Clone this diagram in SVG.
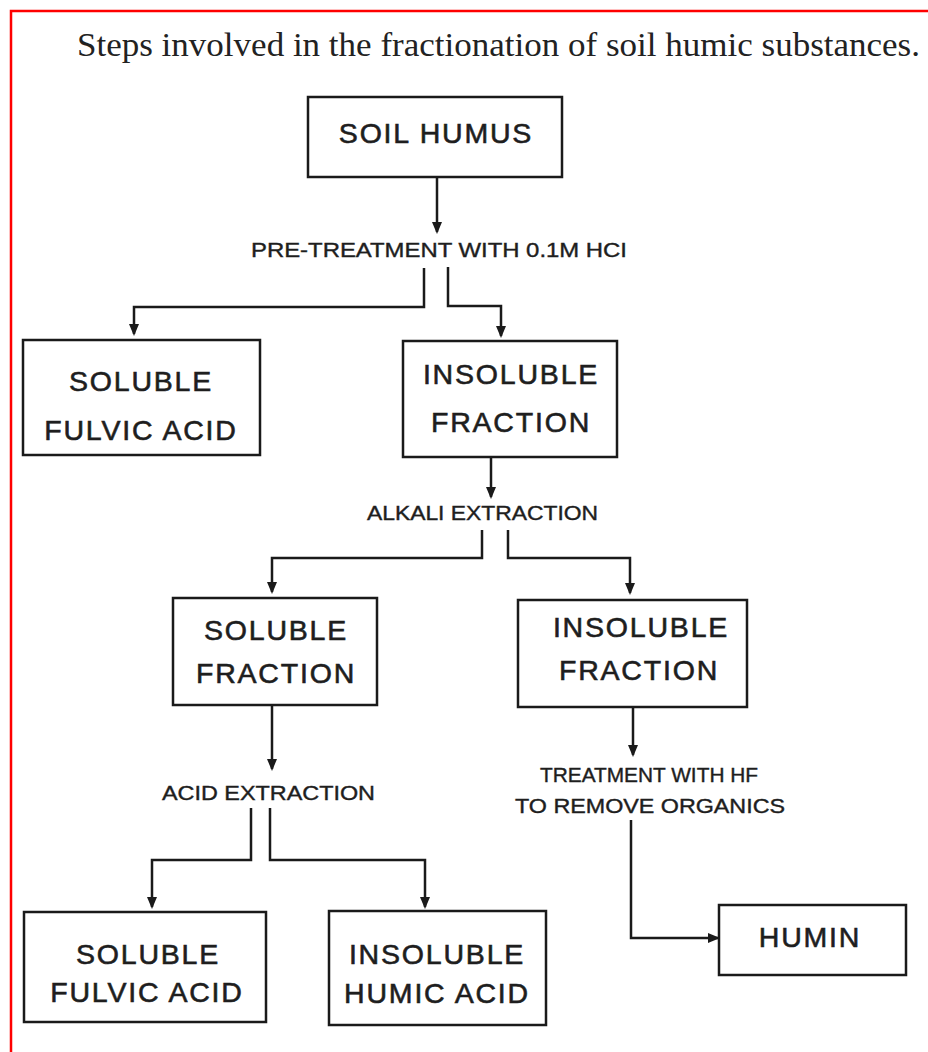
<svg xmlns="http://www.w3.org/2000/svg" width="928" height="1052" viewBox="0 0 928 1052">
<style>
.box{fill:none;stroke:#1a1a1a;stroke-width:2.5}
.bt{font-family:"Liberation Sans",Arial,sans-serif;font-size:28.5px;letter-spacing:1.8px;fill:#1e1e1e;stroke:#1e1e1e;stroke-width:0.6;text-anchor:middle}
.lbl{font-family:"Liberation Sans",Arial,sans-serif;font-size:21px;fill:#1e1e1e;stroke:#1e1e1e;stroke-width:0.4}
.con{fill:none;stroke:#1a1a1a;stroke-width:2.5;marker-end:url(#ah)}
.title{font-family:"Liberation Serif","Times New Roman",serif;font-size:33px;fill:#222}
</style>
<defs>
<marker id="ah" viewBox="0 0 12 10" refX="10" refY="5" markerWidth="12" markerHeight="11" markerUnits="userSpaceOnUse" orient="auto">
<path d="M0,0 L12,5 L0,10 z" fill="#1a1a1a"/>
</marker>
</defs>
<rect x="0" y="0" width="928" height="1052" fill="#ffffff"/>
<rect x="11" y="11" width="940" height="1070" fill="none" stroke="#ff0000" stroke-width="2.5"/>
<text class="title" x="77" y="56" textLength="843" lengthAdjust="spacingAndGlyphs">Steps involved in the fractionation of soil humic substances.</text>

<g id="connectors">
<path class="con" d="M437,177 V232"/>
<path class="con" d="M424,268 V307 H134 V334"/>
<path class="con" d="M448,267 V306 H501 V336"/>
<path class="con" d="M491,458 V497"/>
<path class="con" d="M482,530 V558 H272 V592"/>
<path class="con" d="M508,530 V558 H630 V593"/>
<path class="con" d="M272,705 V769"/>
<path class="con" d="M251,808 V860 H152 V907"/>
<path class="con" d="M270,808 V860 H425 V907"/>
<path class="con" d="M633,707 V755"/>
<path class="con" d="M631,820 V938 H718"/>
</g>

<g id="labels">
<text class="lbl" x="251" y="257" textLength="376" lengthAdjust="spacingAndGlyphs">PRE-TREATMENT WITH 0.1M HCI</text>
<text class="lbl" x="367" y="520" textLength="231" lengthAdjust="spacingAndGlyphs">ALKALI EXTRACTION</text>
<text class="lbl" x="162" y="800" textLength="213" lengthAdjust="spacingAndGlyphs">ACID EXTRACTION</text>
<text class="lbl" x="540" y="782" textLength="218" lengthAdjust="spacingAndGlyphs">TREATMENT WITH HF</text>
<text class="lbl" x="515" y="813" textLength="270" lengthAdjust="spacingAndGlyphs">TO REMOVE ORGANICS</text>
</g>

<g id="soil-humus">
<rect class="box" x="308" y="97" width="254" height="80"/>
<text class="bt" x="436" y="143">SOIL HUMUS</text>
</g>
<g id="soluble-fulvic-acid-1">
<rect class="box" x="23" y="340" width="237" height="115"/>
<text class="bt" x="141" y="391">SOLUBLE</text>
<text class="bt" x="141" y="440">FULVIC ACID</text>
</g>
<g id="insoluble-fraction-1">
<rect class="box" x="403" y="341" width="214" height="116"/>
<text class="bt" x="511" y="384">INSOLUBLE</text>
<text class="bt" x="511" y="432">FRACTION</text>
</g>
<g id="soluble-fraction">
<rect class="box" x="173" y="598" width="204" height="107"/>
<text class="bt" x="276" y="640">SOLUBLE</text>
<text class="bt" x="276" y="683">FRACTION</text>
</g>
<g id="insoluble-fraction-2">
<rect class="box" x="518" y="600" width="229" height="107"/>
<text class="bt" x="641" y="637">INSOLUBLE</text>
<text class="bt" x="639" y="680">FRACTION</text>
</g>
<g id="soluble-fulvic-acid-2">
<rect class="box" x="24" y="912" width="242" height="110"/>
<text class="bt" x="148" y="964">SOLUBLE</text>
<text class="bt" x="147" y="1002">FULVIC ACID</text>
</g>
<g id="insoluble-humic-acid">
<rect class="box" x="329" y="911" width="217" height="114"/>
<text class="bt" x="437" y="964">INSOLUBLE</text>
<text class="bt" x="437" y="1003">HUMIC ACID</text>
</g>
<g id="humin">
<rect class="box" x="719" y="905" width="187" height="70"/>
<text class="bt" x="810" y="947">HUMIN</text>
</g>
</svg>
